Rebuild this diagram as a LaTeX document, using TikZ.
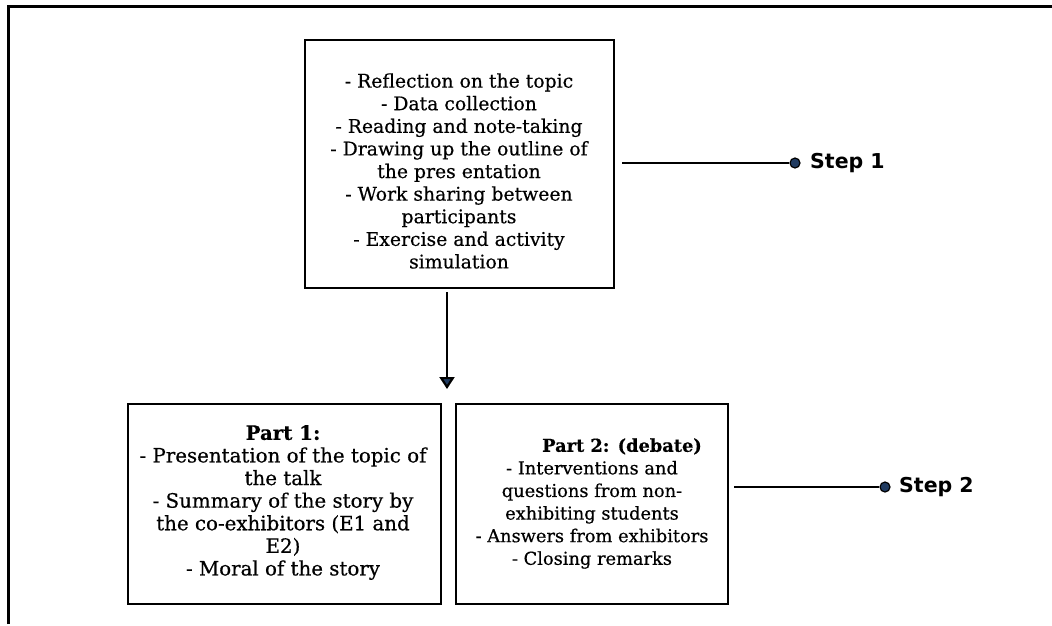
\documentclass[tikz,border=0pt]{standalone}
\usepackage{fontspec}
\setmainfont[FakeBold=0.5]{DejaVu Serif}
\newfontfamily\stepfont{DejaVu Sans}
\usetikzlibrary{arrows.meta}
\definecolor{dotblue}{HTML}{1F3A60}
\tikzset{
  box/.style={draw=black, line width=2.8pt, inner sep=0pt},
  boxtext/.style={align=center, font=\fontsize{17.8}{22.6}\selectfont, inner sep=0pt},
  toptextstyle/.style={boxtext, font=\fontsize{18.8}{22.6}\selectfont},
  widetext/.style={boxtext, font=\fontsize{19.8}{22.6}\selectfont},
  conn/.style={line width=2.2pt, black},
  stepdot/.style={circle, draw=black, line width=1.2pt, fill=dotblue, minimum size=10pt, inner sep=0pt},
  steplabel/.style={font=\stepfont\bfseries\fontsize{20.5}{24}\selectfont, anchor=west, inner sep=0pt},
  frame/.style={line width=3pt, black}
}
\begin{document}
\begin{tikzpicture}[x=1pt,y=-1pt]
\useasboundingbox (0,0) rectangle (1052,625);
% outer frame (top and left only)
\coordinate (fbl) at (8,624);
\coordinate (ftl) at (8,6);
\coordinate (ftr) at (1052,6);
\draw[frame] (fbl) -- (ftl) -- (ftr);

% top box
\node[box, minimum width=309pt, minimum height=248pt] (top) at (459.5,164) {};
\node[toptextstyle] (toptext) at (459,171) {- Reflection on the topic\\- Data collection\\- Reading and note-taking\\- Drawing up the outline of\\the pres entation\\- Work sharing between\\participants\\- Exercise and activity\\simulation};

% bottom boxes
\node[box, minimum width=313pt, minimum height=200pt] (p1) at (284.5,504) {};
\node[widetext] (p1text) at (283,502.5) {\bfseries Part 1:\\- Presentation of the topic of\\the talk\\- Summary of the story by\\the co-exhibitors (E1 and\\E2)\\- Moral of the story};

\node[box, minimum width=272pt, minimum height=200pt] (p2) at (592,504) {};
\node[boxtext] (p2text) at (592,503.5) {\hspace*{60pt}\bfseries Part 2: (debate)\\- Interventions and\\questions from non-\\exhibiting students\\- Answers from exhibitors\\- Closing remarks};

% arrow from top box to bottom
\coordinate (arrowend) at (447,389);
\draw[conn, -{Triangle[length=12pt,width=15pt,fill=dotblue]}, shorten <=3pt] (top.south -| arrowend) -- (arrowend);

% Step 1
\node[stepdot] (dot1) at (795,163) {};
\node[steplabel] (s1) at (810,163) {Step 1};
\draw[conn] ([xshift=7pt]top.east |- dot1) -- (dot1);

% Step 2
\node[stepdot] (dot2) at (885,487) {};
\node[steplabel] (s2) at (899,487) {Step 2};
\draw[conn] ([xshift=5pt]p2.east |- dot2) -- (dot2);
\end{tikzpicture}
\end{document}
